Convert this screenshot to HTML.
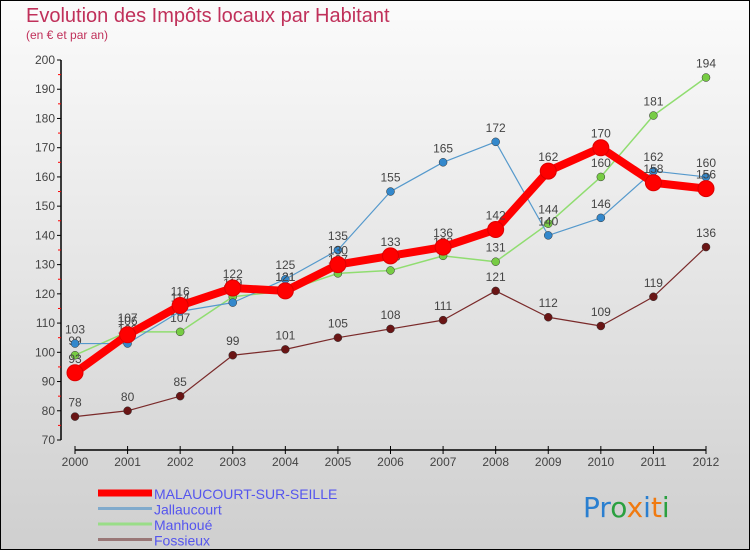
<!DOCTYPE html>
<html><head><meta charset="utf-8"><style>
html,body{margin:0;padding:0}
body{width:750px;height:550px;overflow:hidden}
</style></head><body>
<svg id="c" width="750" height="550" xmlns="http://www.w3.org/2000/svg" font-family="'Liberation Sans', sans-serif">
<defs><linearGradient id="bg" x1="0" y1="0" x2="0" y2="1"><stop offset="0" stop-color="#fbfbfb"/><stop offset="1" stop-color="#cfcfcf"/></linearGradient></defs>
<rect x="0.5" y="0.5" width="749" height="549" fill="url(#bg)" stroke="#000"/>
<text x="26" y="22" font-size="20" fill="#c0305a">Evolution des Impôts locaux par Habitant</text>
<text x="26" y="39" font-size="12" fill="#c0305a">(en € et par an)</text>
<g id="axes"></g><g id="series"></g><g id="legend"></g>
<text x="583" y="517" font-size="28" font-family="'DejaVu Sans', sans-serif"><tspan fill="#2a7fd0">Pr</tspan><tspan fill="#2aa040">o</tspan><tspan fill="#f07a10">x</tspan><tspan fill="#2a7fd0">i</tspan><tspan fill="#f07a10">t</tspan><tspan fill="#2aa040">i</tspan></text>
</svg>
<script>
const years=[2000,2001,2002,2003,2004,2005,2006,2007,2008,2009,2010,2011,2012];
const yTicks=[70,80,90,100,110,120,130,140,150,160,170,180,190,200];
const malaucourt=[93,106,116,122,121,130,133,136,142,162,170,158,156];
const jallaucourt=[103,103,114,117,125,135,155,165,172,140,146,162,160];
const manhoue=[99,107,107,119,121,127,128,133,131,144,160,181,194];
const fossieux=[78,80,85,99,101,105,108,111,121,112,109,119,136];
const seriesNames=['MALAUCOURT-SUR-SEILLE','Jallaucourt','Manhoué','Fossieux'];
const NS='http://www.w3.org/2000/svg';
const X=i=>75+i*(706-75)/(years.length-1);
const Y=v=>440-(v-70)*(380/130);
function mk(tag,attrs,parent){const e=document.createElementNS(NS,tag);for(const k in attrs)e.setAttribute(k,attrs[k]);parent.appendChild(e);return e;}
const ax=document.getElementById('axes');
let yl=mk('line',{x1:61,y1:60,x2:61,y2:440,stroke:'#000','stroke-width':1.5},ax);


let xl=mk('line',{x1:75,y1:450,x2:706,y2:450,stroke:'#000','stroke-width':1.5},ax);


yTicks.forEach((v,i)=>{
  mk('line',{x1:57,y1:Y(v),x2:61,y2:Y(v),stroke:'#000'},ax);
  if(i<yTicks.length-1)mk('line',{x1:58,y1:Y(v+5),x2:61,y2:Y(v+5),stroke:'#f00'},ax);
  const t=mk('text',{x:55,y:Y(v)+4,'font-size':12,fill:'#444','text-anchor':'end'},ax);
  t.textContent=v;
  
  
});
years.forEach((y,i)=>{
  mk('line',{x1:X(i),y1:446,x2:X(i),y2:454,stroke:'#000'},ax);
  const t=mk('text',{x:X(i),y:466,'font-size':12,fill:'#444','text-anchor':'middle'},ax);
  t.textContent=y;
  
  
});
const sg=document.getElementById('series');
function draw(data,color,w,r,dot,name){
  const g=mk('g',{},sg);
  
  
  mk('polyline',{points:data.map((v,i)=>X(i)+','+Y(v)).join(' '),fill:'none',stroke:color,'stroke-width':w,'stroke-linejoin':'round'},g);
  data.forEach((v,i)=>{
    const c=mk('circle',{cx:X(i),cy:Y(v),r:r,fill:dot,stroke:color==='#f00'?'#d00':'#333','stroke-width':color==='#f00'?1:0.5},g);
    
    
    const t=mk('text',{x:X(i),y:Y(v)-10,'font-size':12,fill:'#444','text-anchor':'middle'},g);
    t.textContent=v;
    
    
  });
}
draw(fossieux,'#7a2a2a',1.2,4,'#6a1515','series-fossieux');
draw(manhoue,'#90dd70',1.5,4,'#77cc44','series-manhoue');
draw(jallaucourt,'#5599cc',1.2,4,'#3388cc','series-jallaucourt');
draw(malaucourt,'#f00',8,8,'#f00','series-malaucourt');
const lg=document.getElementById('legend');
const lcol=['#f00','#80aacc','#99dd88','#997777'],lw=[7,3,3,3];
seriesNames.forEach((n,i)=>{
  const g=mk('g',{},lg);
  
  
  const yy=493+i*15.5;
  mk('line',{x1:98,y1:yy,x2:152,y2:yy,stroke:lcol[i],'stroke-width':lw[i]},g);
  const t=mk('text',{x:154,y:yy+6,'font-size':14,fill:'#5555ee'},g);
  t.textContent=n;
});
</script>
</body></html>
